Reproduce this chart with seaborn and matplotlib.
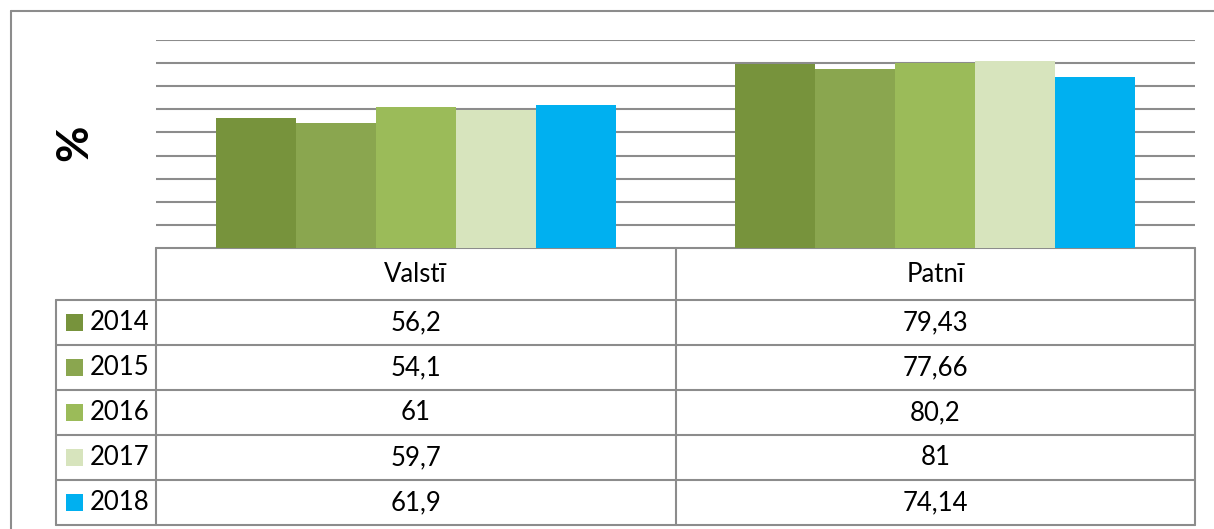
import matplotlib
matplotlib.use("Agg")
import matplotlib.pyplot as plt
import matplotlib.patches as mpatches
import seaborn as sns
import pandas as pd

# --- Data ---
categories = ["Valstī", "Patnī"]
years      = ["2014", "2015", "2016", "2017", "2018"]
valsti     = [56.2, 54.1, 61, 59.7, 61.9]
patni      = [79.43, 77.66, 80.2, 81, 74.14]
colors     = ["#77933C", "#8AA64F", "#9BBB59", "#D7E4BD", "#00B0F0"]

W, H = 1214, 529
GRAY = "#8C8C8C"

sns.set_theme(style="white")
plt.rcParams["font.family"] = ["Lato", "DejaVu Sans"]

rows = []
for i, y in enumerate(years):
    rows.append({"cat": categories[0], "year": y, "val": valsti[i]})
    rows.append({"cat": categories[1], "year": y, "val": patni[i]})
df = pd.DataFrame(rows)

fig = plt.figure(figsize=(W / 100, H / 100), dpi=100)

# main bar area (pixel box: x 156..1195, y 40..248)
ax = fig.add_axes([156 / W, 1 - 248 / H, (1195 - 156) / W, (248 - 40) / H])
sns.barplot(data=df, x="cat", y="val", hue="year", palette=colors,
            width=0.77, linewidth=0, saturation=1, legend=False, ax=ax)
ax.set_ylim(0, 90)
ax.set_xlim(-0.5, 1.5)
ax.set_yticks(range(10, 91, 10))
ax.yaxis.grid(True, color=GRAY, lw=1.5)
ax.set_axisbelow(True)
ax.set_xticks([])
ax.tick_params(left=False, labelleft=False)
ax.set_xlabel("")
ax.set_ylabel("")
ax.patch.set_alpha(0)
for s in ax.spines.values():
    s.set_visible(False)

# overlay in pixel coords for the data table and frame
ov = fig.add_axes([0, 0, 1, 1], zorder=-1)
ov.set_xlim(0, W)
ov.set_ylim(H, 0)
ov.axis("off")

def px(xdata):
    # category data x -> figure pixel x
    return ax.transData.transform((xdata, 0))[0]

mid   = px(0.5)
left  = px(-0.5)
right = px(1.5)
leg_l = 56
top, head_b = 248, 300
row_h = 45
row_edges = [head_b + k * row_h for k in range(len(years) + 1)]

# outer frame (left + top)
ov.plot([11, 11], [11, H], color=GRAY, lw=1.5)
ov.plot([11, W], [11, 11], color=GRAY, lw=1.5)

# table lines
ov.plot([left, right], [top, top], color=GRAY, lw=1.5)
for yy in row_edges:
    ov.plot([leg_l, right], [yy, yy], color=GRAY, lw=1.5)
for xx in [left, mid, right]:
    ov.plot([xx, xx], [top, row_edges[-1]], color=GRAY, lw=1.5)
ov.plot([leg_l, leg_l], [head_b, row_edges[-1]], color=GRAY, lw=1.5)

def fmt(v):
    return f"{v:g}".replace(".", ",")

fs = 18.5
for c, name in enumerate(categories):
    ov.text(px(c), (top + head_b) / 2, name, ha="center", va="center",
            fontsize=fs, color="black")

for i, y in enumerate(years):
    yc = (row_edges[i] + row_edges[i + 1]) / 2
    ov.add_patch(mpatches.Rectangle((66, yc - 8.5), 17, 17,
                                    facecolor=colors[i], edgecolor="none"))
    ov.text(90, yc, y, ha="left", va="center", fontsize=fs, color="black")
    ov.text(px(0), yc, fmt(valsti[i]), ha="center", va="center",
            fontsize=fs, color="black")
    ov.text(px(1), yc, fmt(patni[i]), ha="center", va="center",
            fontsize=fs, color="black")

# y label
ov.text(74, 143, "%", rotation=90, ha="center", va="center",
        fontsize=32, fontweight="bold", color="black")

plt.savefig("out.png", dpi=100)
